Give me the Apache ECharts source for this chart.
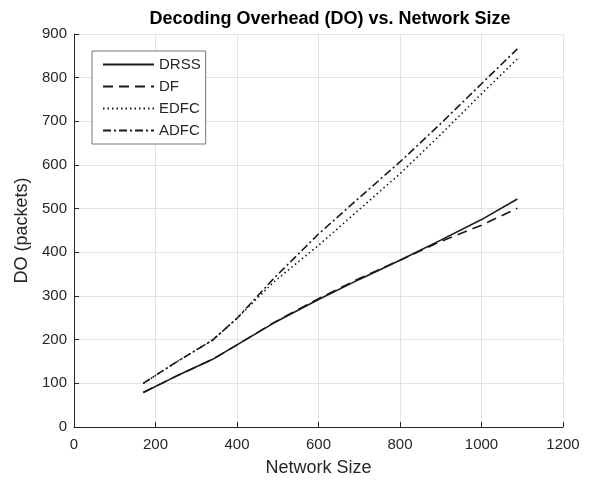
<!DOCTYPE html>
<html>
<head>
<meta charset="utf-8">
<script src="https://cdn.jsdelivr.net/npm/echarts@6/dist/echarts.min.js"></script>
<style>
  html, body { margin: 0; padding: 0; background: #fff; }
  #chart { width: 612px; height: 484px; }
</style>
</head>
<body>
<div id="chart"></div>
<script>
// network sizes and decoding overhead
const sizes = [170, 250, 340, 400, 490, 600, 700, 800, 900, 1000, 1088];
const drss = [79, 116, 155, 188, 238, 292, 338, 382, 428, 475, 522];
const df   = [79, 116, 155, 188, 239, 294, 340, 382, 425, 462, 501];
const edfc = [100, 148, 199, 249, 332, 416, 498, 580, 670, 763, 843];
const adfc = [100, 148, 199, 249, 340, 442, 525, 607, 695, 786, 866];

const pairs = (ys) => sizes.map((x, i) => [x, ys[i]]);

const mkLine = (name, ys, type) => ({
    name: name,
    type: 'line',
    data: pairs(ys),
    symbol: 'none',
    lineStyle: { color: '#1a1a1a', width: 1.6, type: type },
    itemStyle: { color: '#1a1a1a' }
});

const font = 'Liberation Sans, Arial, sans-serif';

const chart = echarts.init(document.getElementById('chart'));
chart.setOption({
    backgroundColor: '#fff',
    animation: false,
    title: {
        text: 'Decoding Overhead (DO) vs. Network Size',
        left: 325, top: 5, textAlign: 'center',
        textStyle: { fontFamily: font, fontSize: 18, fontWeight: 'bold', color: '#000' }
    },
    legend: {
        orient: 'vertical',
        left: 92, top: 51,
        padding: [6, 5, 6, 10],
        itemWidth: 51, itemHeight: 10, itemGap: 7,
        borderColor: '#777', borderWidth: 1, backgroundColor: '#fff',
        itemStyle: { opacity: 0 },
        textStyle: { fontFamily: font, fontSize: 15, color: '#262626' },
        data: ['DRSS', 'DF', 'EDFC', 'ADFC']
    },
    grid: { left: 74, right: 49, top: 34, bottom: 57 },
    xAxis: {
        type: 'value', min: 0, max: 1200, interval: 200,
        name: 'Network Size', nameLocation: 'middle', nameGap: 32,
        nameTextStyle: { fontFamily: font, fontSize: 18, color: '#262626' },
        axisLine: { show: true, lineStyle: { color: '#262626', width: 1 } },
        axisTick: { show: true, inside: true, length: 5, lineStyle: { color: '#262626' } },
        axisLabel: { fontFamily: font, fontSize: 15, color: '#262626', margin: 10, formatter: (v) => String(v) },
        splitLine: { show: true, lineStyle: { color: '#e3e3e3' } }
    },
    yAxis: {
        type: 'value', min: 0, max: 900, interval: 100,
        name: 'DO (packets)', nameLocation: 'middle', nameGap: 42,
        nameTextStyle: { fontFamily: font, fontSize: 18, color: '#262626' },
        axisLine: { show: true, lineStyle: { color: '#262626', width: 1 } },
        axisTick: { show: true, inside: true, length: 5, lineStyle: { color: '#262626' } },
        axisLabel: { fontFamily: font, fontSize: 15, color: '#262626', margin: 7, formatter: (v) => String(v) },
        splitLine: { show: true, lineStyle: { color: '#e3e3e3' } }
    },
    series: [
        mkLine('DRSS', drss, 'solid'),
        mkLine('DF', df, [10, 6]),
        mkLine('EDFC', edfc, [1.5, 3]),
        mkLine('ADFC', adfc, [8, 3, 2, 3])
    ]
});
</script>
</body>
</html>
